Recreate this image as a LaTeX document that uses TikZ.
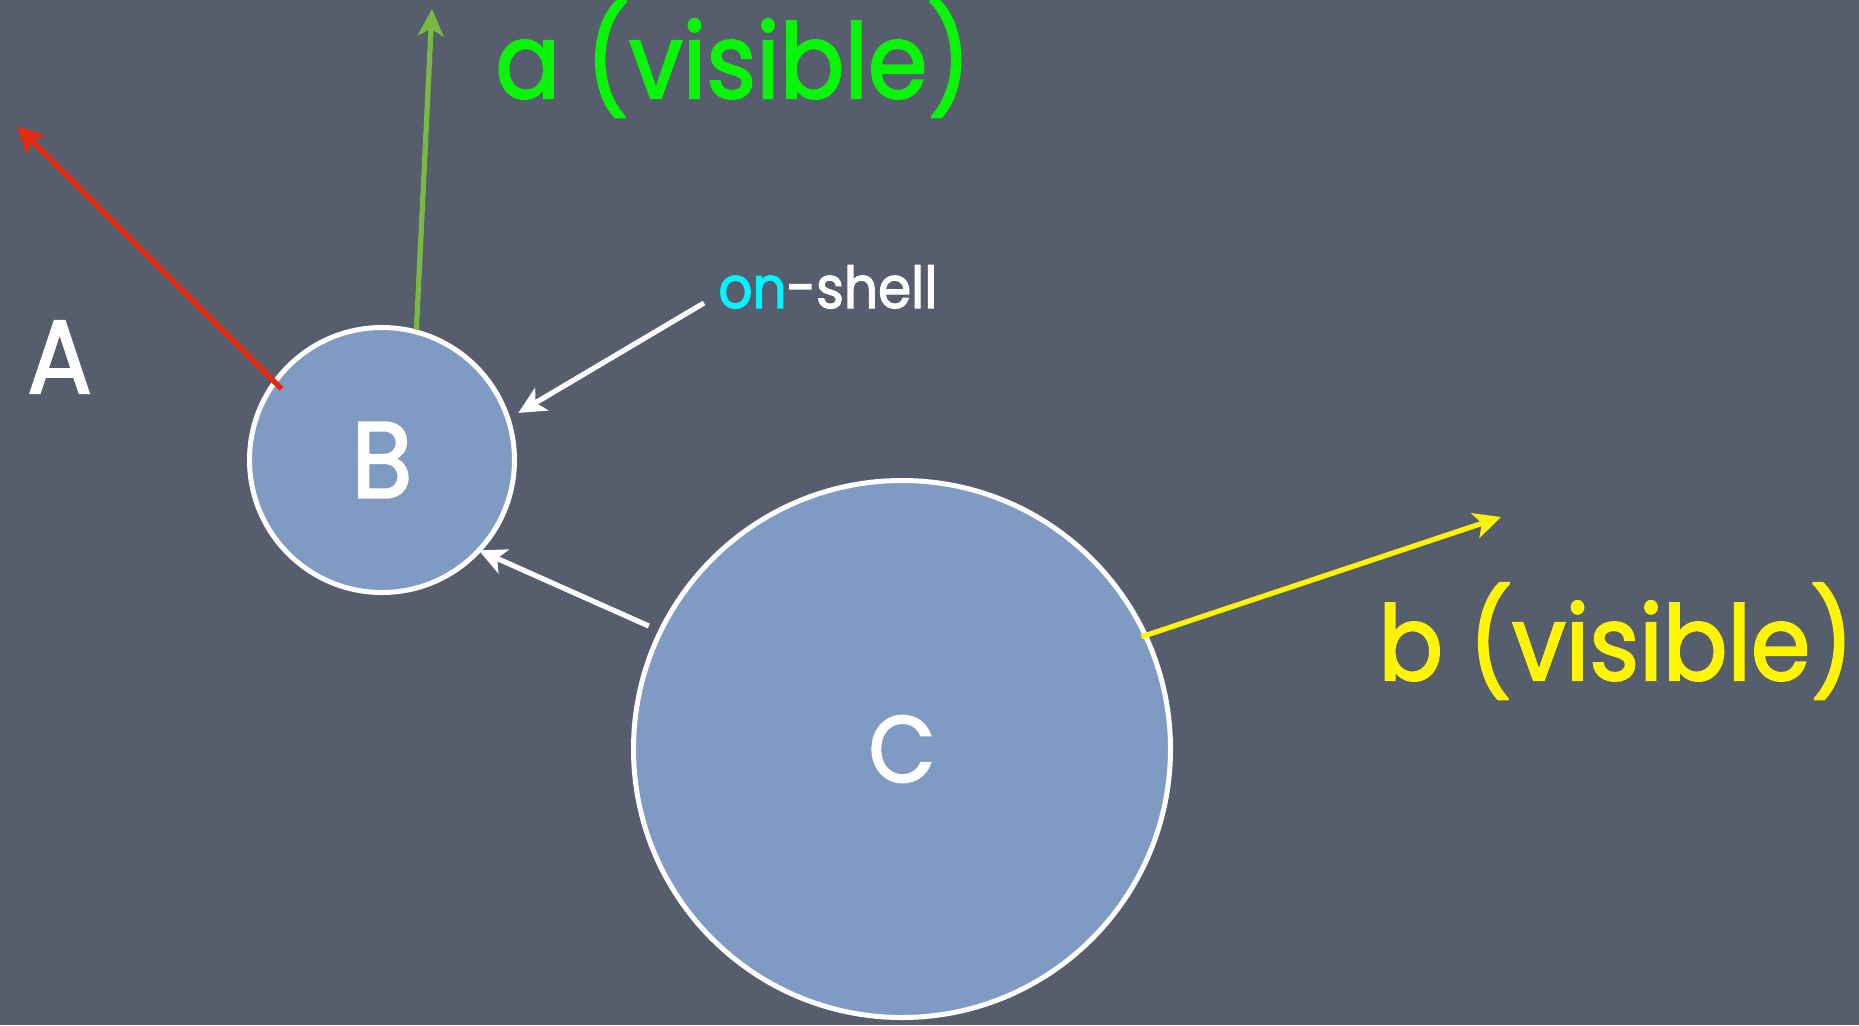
\documentclass[tikz,border=0pt]{standalone}
\usepackage{fontspec}
\setmainfont{Poppins}[FakeStretch=0.92, FakeBold=2]
\usetikzlibrary{arrows.meta}
\definecolor{kbslate}{HTML}{565D6C}
\definecolor{kbdisc}{HTML}{809BC3}
\definecolor{kbred}{HTML}{E8290B}
\definecolor{kbgreen}{HTML}{78B843}
\definecolor{kblime}{HTML}{08F508}
\definecolor{kbyellow}{HTML}{FFF500}
\definecolor{kbcyan}{HTML}{00F5FF}

\begin{document}
\begin{tikzpicture}[x=0.5pt, y=-0.5pt,
  disc/.style={circle, draw=white, line width=2.5pt, fill=kbdisc, inner sep=0pt, outer sep=0pt, text=white, font=\fontsize{54}{60}\selectfont},
  ray/.style={line width=2.6pt, -{Stealth[length=13.5pt, width=13pt, inset=3.5pt]}},
  tag/.style={anchor=base west, inner sep=0pt, font=\fontsize{52}{60}\selectfont}]
  \useasboundingbox (0,0) rectangle (1859,1025);
  \fill[kbslate] (0,0) rectangle (1859,1025);
  \node[disc, minimum size=132.5pt] (B) at (382,460) {B};
  \node[disc, minimum size=268.5pt] (C) at (902,749) {\fontsize{47}{52}\selectfont\raisebox{-12pt}{C}};
  \node[tag, text=kblime] (avis) at (495,98) {a (visible)};
  \node[tag, text=kbyellow] (bvis) at (1378,680) {b (visible)};
  \node[tag, text=white, font=\fontsize{52}{60}\selectfont] (Alab) at (27,393) {A};
  \node[tag, text=white, font=\fontsize{29}{34}\selectfont] (shell) at (718,308) {\textcolor{kbcyan}{on}-shell};
  \coordinate (Atip) at (17,126);
  \coordinate (atip) at (432,9);
  \coordinate (btip) at (1501,517);
  \coordinate (shelltail) at (704,303);
  \draw[ray, kbred, shorten <=-4.75pt] (B.144) -- (Atip);
  \draw[ray, kbgreen, shorten <=1.25pt] (B.75) -- (atip);
  \draw[ray, kbyellow, shorten <=-2pt] (C.25) -- (btip);
  \draw[ray, white, shorten >=6pt] (shelltail) -- (B.18);
  \draw[ray, white, shorten <=6.5pt] (C.154) -- (B.317);
\end{tikzpicture}
\end{document}
